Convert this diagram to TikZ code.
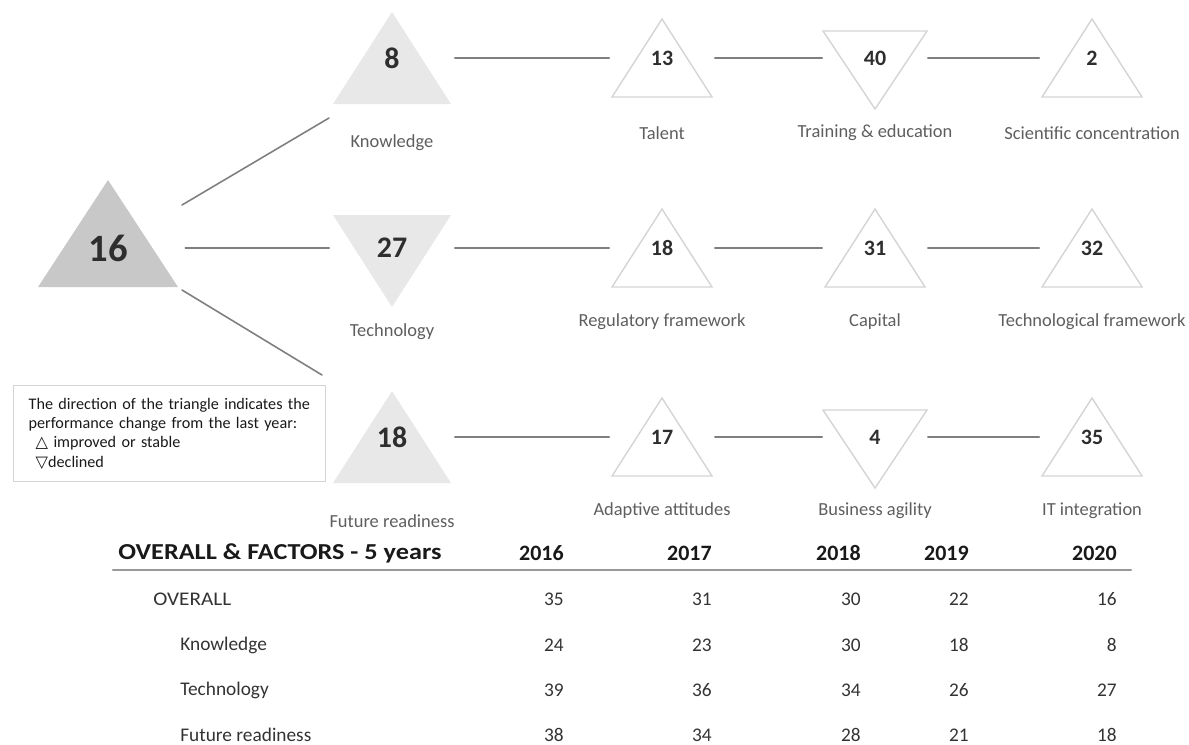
\documentclass[tikz,border=0pt]{standalone}
\usepackage{fontspec}
\setmainfont{Carlito}
\newfontfamily\symfont{DejaVu Sans}
\usetikzlibrary{backgrounds}

\definecolor{tridark}{HTML}{C8C8C8}
\definecolor{trilight}{HTML}{E8E8E8}
\definecolor{triline}{HTML}{D4D4D4}
\definecolor{linkgray}{HTML}{7F7F7F}
\definecolor{labgray}{HTML}{5E5E5E}
\definecolor{numdark}{HTML}{2E2E2E}

\tikzset{
  bignum/.style={inner sep=0pt, minimum width=3.08cm, text=numdark, font=\fontsize{22}{24}\selectfont\bfseries},
  facnum/.style={inner sep=0pt, minimum width=2.5cm, text=numdark, font=\fontsize{17}{19}\selectfont\bfseries},
  subnum/.style={inner sep=0pt, minimum width=2.1cm, text=numdark, font=\fontsize{12.5}{14}\selectfont\bfseries},
  lab/.style={inner sep=0pt, text=labgray, font=\fontsize{10.5}{12}\selectfont},
  link/.style={draw=linkgray, line width=0.9pt},
  outtri/.style={draw=triline, line width=0.8pt},
  hd/.style={inner sep=0pt, text=black!90, font=\fontsize{12.5}{14}\selectfont\bfseries},
  rowlab/.style={inner sep=0pt, anchor=west, text=black!80, font=\fontsize{11}{13}\selectfont},
  cell/.style={inner sep=0pt, anchor=east, text=black!80, font=\fontsize{11}{13}\selectfont},
}

\begin{document}
\begin{tikzpicture}[x=0.02cm, y=-0.02cm, line join=round, line cap=round]
\useasboundingbox (0,0) rectangle (1189,744);

% overall and the three factors
\node[bignum] (o16) at (108,248) {16};
\node[facnum] (kn) at (392,58) {8};
\node[facnum] (te) at (392,248) {27};
\node[facnum] (fr) at (392,437) {18};

% sub-factors
\node[subnum] (ta) at (662,58) {13};
\node[subnum] (tr) at (875,58) {40};
\node[subnum] (sc) at (1092,58) {2};
\node[subnum] (re) at (662,248) {18};
\node[subnum] (ca) at (875,248) {31};
\node[subnum] (tf) at (1092,248) {32};
\node[subnum] (aa) at (662,437) {17};
\node[subnum] (ba) at (875,437) {4};
\node[subnum] (it) at (1092,437) {35};

% names under the triangles
\foreach \n/\x/\y/\t in {kn/392/143/Knowledge, te/392/332/Technology, fr/392/521/Future readiness,
  ta/662/133/Talent, tr/875/133/Training \& education, sc/1092/133/Scientific concentration,
  re/662/322/Regulatory framework, ca/875/322/Capital, tf/1092/322/Technological framework,
  aa/662/511/Adaptive attitudes, ba/875/511/Business agility, it/1092/511/IT integration}
  \node[lab] (\n-l) at (\x,\y) {\t};

\begin{scope}[on background layer]
  \fill[tridark] (o16.center) ++(0,-68) -- ++(70,107) -- ++(-140,0) -- cycle;
  \foreach \n in {kn,fr}
    \fill[trilight] (\n.center) ++(0,-46) -- ++(59,92) -- ++(-118,0) -- cycle;
  \fill[trilight] (te.center) ++(-59,-33) -- ++(118,0) -- ++(-59,92) -- cycle;
  \foreach \n in {ta,sc,re,ca,tf,aa,it}
    \draw[outtri] (\n.center) ++(0,-39) -- ++(50,78) -- ++(-100,0) -- cycle;
  \foreach \n in {tr,ba}
    \draw[outtri] (\n.center) ++(-52,-27) -- ++(104,0) -- ++(-52,78) -- cycle;
\end{scope}

% connectors
\draw[link] ([shift={(74,-43)}]o16.center) -- ([shift={(-63,60)}]kn.center);
\draw[link] (o16) -- (te);
\draw[link] ([shift={(74,42)}]o16.center) -- ([shift={(-70,-62)}]fr.center);
\foreach \a/\b in {kn/ta, ta/tr, tr/sc, te/re, re/ca, ca/tf, fr/aa, aa/ba, ba/it}
  \draw[link] (\a) -- (\b);

% legend
\node[draw=triline, line width=0.8pt, anchor=north west, inner xsep=0.3cm, inner ysep=7pt,
  text width=5.64cm, align=left, text=black!90, font=\fontsize{9.2}{11}\selectfont] (key) at (13,385)
  {The direction of the triangle indicates the\\
   performance change from the last year:\\
   \hspace*{4pt}{\symfont △} improved or stable\\
   \hspace*{4pt}{\symfont ▽}declined};

% table
\node[hd, anchor=west] (head) at (118,553) {\scalebox{1.15}[1]{\fontsize{13}{15}\selectfont OVERALL \& FACTORS - 5 years}};
\foreach \x/\yr in {564/2016, 712/2017, 861/2018, 969/2019, 1117/2020}
  \node[hd, anchor=east] (y\yr) at (\x,553) {\yr};
\draw[draw=black!40, line width=1.3pt] (113,570) -- (1131,570);

\node[rowlab] (r1) at (153,599) {\scalebox{1.1}[1]{OVERALL}};
\node[rowlab] (r2) at (180,645) {Knowledge};
\node[rowlab] (r3) at (180,690) {Technology};
\node[rowlab] (r4) at (180,735) {Future readiness};

\foreach \r/\yy/\pa/\pb/\pc/\pd/\pe in {1/599/35/31/30/22/16, 2/645/24/23/30/18/8,
    3/690/39/36/34/26/27, 4/735/38/34/28/21/18}{
  \foreach \x/\v [count=\k] in {564/\pa, 712/\pb, 861/\pc, 969/\pd, 1117/\pe}
    \node[cell] (v\r-\k) at (\x,\yy) {\v};
}
\end{tikzpicture}
\end{document}
